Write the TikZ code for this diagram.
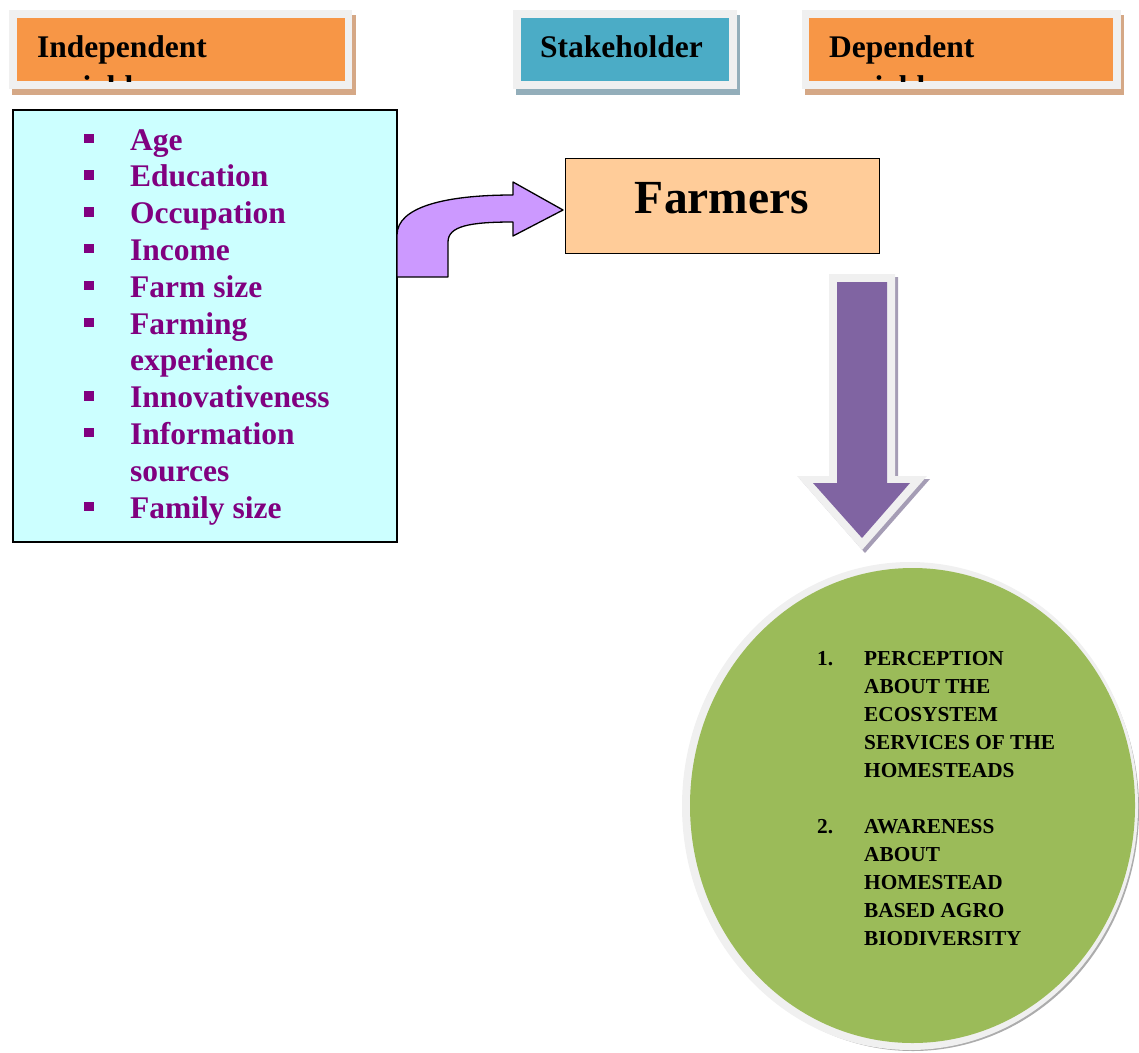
\documentclass[tikz,border=0pt]{standalone}
\usepackage{fontspec}
\usetikzlibrary{shapes.geometric}
\setmainfont{Liberation Serif}
\definecolor{hdrorange}{HTML}{F79646}
\definecolor{hdrteal}{HTML}{4BACC6}
\definecolor{framegray}{HTML}{F0F0F0}
\definecolor{tanshadow}{HTML}{D5A886}
\definecolor{tealshadow}{HTML}{93AEBA}
\definecolor{listbg}{HTML}{CCFFFF}
\definecolor{listpurple}{HTML}{800080}
\definecolor{peach}{HTML}{FFCC99}
\definecolor{lilac}{HTML}{CC99FF}
\definecolor{arrowpurple}{HTML}{8064A2}
\definecolor{purpleshadow}{HTML}{A59DB5}
\definecolor{leafgreen}{HTML}{9BBB59}
\tikzset{
  hdrtext/.style={anchor=base west, inner sep=0pt, font=\fontsize{31.5}{36}\selectfont\bfseries, text=black},
  listtext/.style={anchor=base west, inner sep=0pt, font=\fontsize{31.5}{36}\selectfont\bfseries, text=listpurple},
  circtext/.style={anchor=base west, inner sep=0pt, font=\fontsize{21.3}{28}\selectfont\bfseries, text=black},
  bulletsq/.style={fill=listpurple},
}
\begin{document}
\begin{tikzpicture}[x=1pt,y=-1pt]
\useasboundingbox (0,0) rectangle (1139,1052);

% ---- header boxes ----
% Independent
\fill[tanshadow] (12,15) rectangle (356,95);
\fill[framegray] (9,10) rectangle (352,89);
\fill[hdrorange] (17,18) rectangle (345,81);
\begin{scope}
\clip (17,18) rectangle (345,81);
\node[hdrtext] (indep) at (37,57) {Independent};
\node[hdrtext] (indepvar) at (37,97) {variables};
\end{scope}
% Stakeholder
\fill[tealshadow] (516,15) rectangle (740,95);
\fill[framegray] (513,10) rectangle (737,89);
\fill[hdrteal] (521,18) rectangle (729,81);
\node[hdrtext] (stake) at (540,57) {Stakeholder};
% Dependent
\fill[tanshadow] (805,15) rectangle (1124,95);
\fill[framegray] (802,10) rectangle (1121,89);
\fill[hdrorange] (809,18) rectangle (1113,81);
\begin{scope}
\clip (809,18) rectangle (1113,81);
\node[hdrtext] (dep) at (829,57) {Dependent};
\node[hdrtext] (depvar) at (829,97) {variables};
\end{scope}

% ---- list box ----
\node[draw=black, line width=1.2pt, fill=listbg, minimum width=384pt, minimum height=432pt, inner sep=0pt] (listbox) at (205,326) {};
\foreach \y/\t/\b [count=\i] in {150/Age/1, 186.8/Education/1, 223.6/Occupation/1, 260.4/Income/1, 297.2/Farm size/1, 334/Farming/1, 370.8/experience/0, 407.6/Innovativeness/1, 444.4/Information/1, 481.2/sources/0, 518/Family size/1}{
  \node[listtext] (item\i) at (130,\y) {\t};
  \ifnum\b=1 \fill[bulletsq] (84,\y-16.5) rectangle (93.5,\y-7); \fi
}

% ---- Farmers ----
\node[draw=black, line width=1pt, fill=peach, minimum width=314pt, minimum height=95pt, inner sep=0pt] (farmers) at (722,205.5) {};
\node[anchor=base, inner sep=0pt, font=\fontsize{47.5}{50}\selectfont\bfseries] (farmerslabel) at (722,213) {Farmers};

% ---- curved arrow ----
\draw[fill=lilac, line width=1.3pt, line join=round]
  (397,277) -- (397,235) .. controls (397,207) and (445,195) .. (513,195)
  -- (513,182) -- (563,210) -- (513,236) -- (513,222)
  .. controls (470,222) and (448,226) .. (448,242) -- (448,277) -- cycle;

% ---- down arrow ----
\fill[purpleshadow] (832,277) -- (898,277) -- (898,479) -- (930,479) -- (865,553) -- (800,479) -- (832,479) -- cycle;
\fill[framegray] (829,274) -- (895,274) -- (895,476) -- (927,476) -- (862,550) -- (797,476) -- (829,476) -- cycle;
\fill[arrowpurple] (837,282) -- (887,282) -- (887,483) -- (910,483) -- (862,538) -- (813,483) -- (837,483) -- cycle;

% ---- circle ----
\fill[gray!65] (913,809) ellipse [x radius=226, y radius=242];
\fill[framegray] (910,806) ellipse [x radius=228, y radius=244];
\node[ellipse, fill=leafgreen, minimum width=445pt, minimum height=475pt, inner sep=0pt] (outcome) at (912.5,805.5) {};
\node[circtext] (num1) at (817,665) {1.};
\foreach \y/\t [count=\i] in {665/PERCEPTION, 693/ABOUT THE, 721/ECOSYSTEM, 749/SERVICES OF THE, 777/HOMESTEADS}{
  \node[circtext] (pa\i) at (864,\y) {\t};
}
\node[circtext] (num2) at (817,833) {2.};
\foreach \y/\t [count=\i] in {833/AWARENESS, 861/ABOUT, 889/HOMESTEAD, 917/BASED AGRO, 945/BIODIVERSITY}{
  \node[circtext] (pb\i) at (864,\y) {\t};
}
\end{tikzpicture}
\end{document}
